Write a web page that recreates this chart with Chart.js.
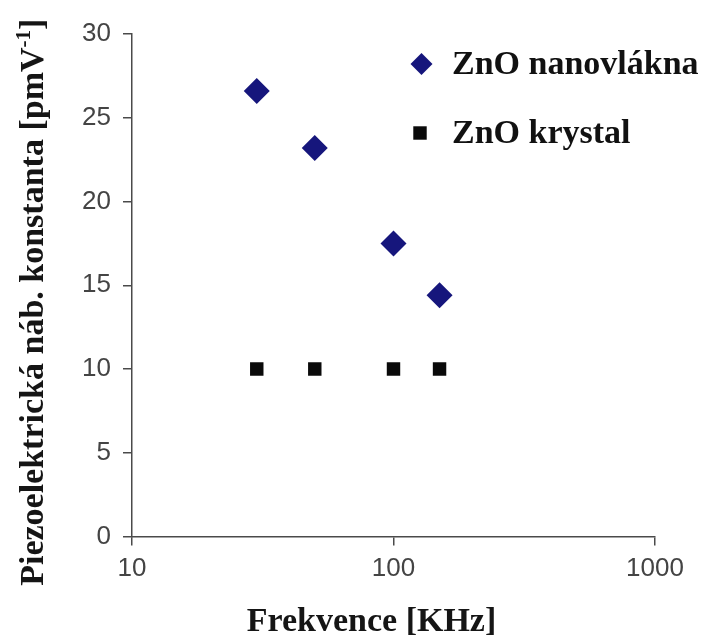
<!DOCTYPE html>
<html>
<head>
<meta charset="utf-8">
<script src="https://cdn.jsdelivr.net/npm/chart.js@4/dist/chart.umd.min.js"></script>
<style>
  html, body { margin: 0; padding: 0; background: #fff; }
  #wrap { width: 702px; height: 638px; }
</style>
</head>
<body>
<div id="wrap"><canvas id="c" width="702" height="638"></canvas></div>
<script>
// Frequency (kHz) and piezoelectric constant (pm/V)
const frequencies = [30, 50, 100, 150];
const nanofiberValues = [26.6, 23.2, 17.5, 14.4];
const crystalValues = [10, 10, 10, 10];
const seriesNames = ['ZnO nanovlákna', 'ZnO krystal'];
const xTickValues = [10, 100, 1000];
const xTitle = 'Frekvence [KHz]';
const yTitleMain = 'Piezoelektrická náb. konstanta [pmV';
const yTitleSup = '-1';
const yTitleEnd = ']';

const serif = "'Liberation Serif', 'Times New Roman', serif";
const sans = "'Liberation Sans', Arial, Helvetica, sans-serif";
const axisColor = '#4a4a4a';

const toPoints = (xs, ys) => xs.map((x, i) => ({ x, y: ys[i] }));

// Axis titles and in-plot legend drawn on the canvas
const decorations = {
  id: 'decorations',
  afterDraw(chart) {
    const { ctx, chartArea } = chart;
    ctx.save();
    ctx.fillStyle = '#151515';

    // x-axis title
    ctx.font = `bold 34px ${serif}`;
    ctx.textAlign = 'center';
    ctx.textBaseline = 'alphabetic';
    const cx = (chartArea.left + chartArea.right) / 2 - 22;
    ctx.fillText(xTitle, cx, 631);

    // y-axis title, rotated, with superscript exponent
    const mainFont = `bold 34px ${serif}`;
    const supFont = `bold 21px ${serif}`;
    ctx.font = mainFont;
    const wMain = ctx.measureText(yTitleMain).width;
    const wEnd = ctx.measureText(yTitleEnd).width;
    ctx.font = supFont;
    const wSup = ctx.measureText(yTitleSup).width;
    const total = wMain + wSup + wEnd;
    const cy = (chartArea.top + chartArea.bottom) / 2 + 17;
    ctx.translate(43, cy);
    ctx.rotate(-Math.PI / 2);
    ctx.textAlign = 'left';
    let pos = -total / 2;
    ctx.font = mainFont;
    ctx.fillText(yTitleMain, pos, 0);
    pos += wMain;
    ctx.font = supFont;
    ctx.fillText(yTitleSup, pos, -13);
    pos += wSup;
    ctx.font = mainFont;
    ctx.fillText(yTitleEnd, pos, 0);
    ctx.restore();

    // legend
    ctx.save();
    const rows = [
      { ds: chart.data.datasets[0], mx: 421.5, my: 64, radius: 11 },
      { ds: chart.data.datasets[1], mx: 420, my: 133, radius: 9.5 }
    ];
    rows.forEach(r => {
      ctx.fillStyle = r.ds.pointBackgroundColor;
      ctx.strokeStyle = r.ds.pointBorderColor;
      ctx.lineWidth = 0;
      Chart.helpers.drawPoint(ctx, { pointStyle: r.ds.pointStyle, radius: r.radius, rotation: 0, borderWidth: 0 }, r.mx, r.my);
      ctx.fillStyle = '#111';
      ctx.font = `bold 34px ${serif}`;
      ctx.textAlign = 'left';
      ctx.textBaseline = 'alphabetic';
      ctx.fillText(r.ds.label, 452, r.my + 10);
    });
    ctx.restore();
  }
};

new Chart(document.getElementById('c'), {
  type: 'scatter',
  data: {
    datasets: [
      {
        label: seriesNames[0],
        data: toPoints(frequencies, nanofiberValues),
        pointStyle: 'rectRot',
        pointRadius: 13,
        pointBackgroundColor: '#16167c',
        pointBorderColor: '#16167c',
        pointBorderWidth: 0,
        showLine: false
      },
      {
        label: seriesNames[1],
        data: toPoints(frequencies, crystalValues),
        pointStyle: 'rect',
        pointRadius: 9.5,
        pointBackgroundColor: '#0a0a0a',
        pointBorderColor: '#0a0a0a',
        pointBorderWidth: 0,
        showLine: false
      }
    ]
  },
  options: {
    responsive: false,
    animation: false,
    events: [],
    layout: { padding: { left: 60, right: 47, top: 34, bottom: 41.5 } },
    plugins: {
      legend: { display: false },
      tooltip: { enabled: false }
    },
    scales: {
      x: {
        type: 'logarithmic',
        min: 10,
        max: 1000,
        afterBuildTicks(scale) {
          scale.ticks = xTickValues.map(v => ({ value: v }));
        },
        afterFit(scale) { scale.height = 60; },
        ticks: {
          callback: v => String(v),
          color: '#444',
          font: { family: sans, size: 26 },
          padding: 8,
          maxRotation: 0,
          autoSkip: false
        },
        grid: { drawOnChartArea: false, drawTicks: true, tickLength: 9, color: axisColor, lineWidth: 1.5 },
        border: { display: true, color: axisColor, width: 1.5 }
      },
      y: {
        min: 0,
        max: 30,
        afterFit(scale) { scale.width = 72; },
        ticks: {
          stepSize: 5,
          color: '#444',
          font: { family: sans, size: 26 },
          padding: 12
        },
        grid: { drawOnChartArea: false, drawTicks: true, tickLength: 9, color: axisColor, lineWidth: 1.5 },
        border: { display: true, color: axisColor, width: 1.5 }
      }
    }
  },
  plugins: [decorations]
});
</script>
</body>
</html>
